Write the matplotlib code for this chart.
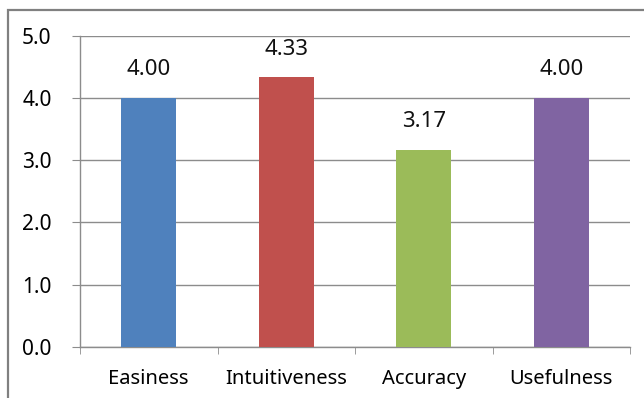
import numpy as np
import matplotlib
matplotlib.use("Agg")
import matplotlib.pyplot as plt
from matplotlib.patches import Rectangle

categories = ["Easiness", "Intuitiveness", "Accuracy", "Usefulness"]
scores = [4.00, 4.33, 3.17, 4.00]
bar_colors = ["#4F81BD", "#C0504D", "#9BBB59", "#8064A2"]
y_ticks = [0.0, 1.0, 2.0, 3.0, 4.0, 5.0]

plt.rcParams["font.family"] = ["Noto Sans", "DejaVu Sans"]

fig = plt.figure(figsize=(6.44, 3.98), dpi=100)
ax = fig.add_axes([80 / 644, 1 - 347 / 398, 550 / 644, 311.5 / 398])

# outer chart border (runs off right and bottom edges)
fig.patches.append(Rectangle((8 / 644, -0.2), 1.2, 1.2 - 10 / 398,
                             transform=fig.transFigure, fill=False,
                             edgecolor="#808080", linewidth=1.6))

x = np.arange(len(categories))
ax.bar(x, scores, width=0.4, color=bar_colors, zorder=3)

for xi, v in zip(x, scores):
    ax.text(xi, v + 0.45, f"{v:.2f}", ha="center", va="center", fontsize=16,
            color="#111111")

grid_c = "#8c8c8c"
ax.set_xlim(-0.5, len(categories) - 0.5)
ax.set_ylim(0, 5)
ax.set_yticks(y_ticks)
ax.set_yticklabels([f"{t:.1f}" for t in y_ticks])
ax.yaxis.grid(True, color=grid_c, linewidth=1.0, zorder=0)
ax.set_axisbelow(True)

ax.set_xticks(x)
ax.set_xticklabels(categories)
ax.set_xticks(np.arange(-0.5, len(categories)), minor=True)
ax.tick_params(axis="x", which="major", length=0, pad=16, labelsize=14.5)
ax.tick_params(axis="x", which="minor", length=5, color=grid_c, direction="out")
ax.tick_params(axis="y", length=6, color=grid_c, pad=14.5, labelsize=15)

for s in ["top", "right"]:
    ax.spines[s].set_visible(False)
for s in ["left", "bottom"]:
    ax.spines[s].set_color(grid_c)
    ax.spines[s].set_linewidth(1.0)

fig.savefig("out.png", dpi=100)
